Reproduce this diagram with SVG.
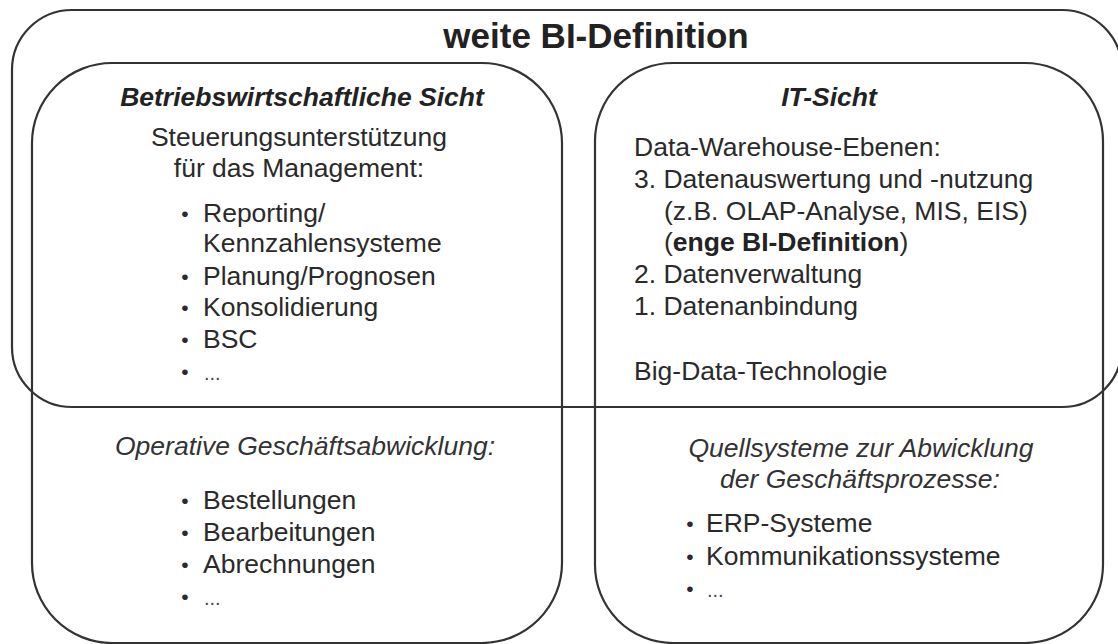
<svg xmlns="http://www.w3.org/2000/svg" width="1118" height="644" viewBox="0 0 1118 644">
  <style>
    .frame { fill: none; stroke: #333; stroke-width: 2.2; }
    text { font-family: "Liberation Sans", Arial, sans-serif; fill: #2a2a2a; font-size: 26.5px; }
    .title { font-size: 35px; font-weight: bold; text-anchor: middle; fill: #222; }
    .head { font-weight: bold; font-style: italic; text-anchor: middle; fill: #222; }
    .sub { font-style: italic; text-anchor: middle; fill: #333; }
    .mid { text-anchor: middle; }
    .dot { text-anchor: middle; font-size: 21px; }
    .more { font-size: 20px; fill: #444; }
  </style>
  <rect width="1118" height="644" fill="#fff"/>

  <!-- wide BI definition: outer frame spanning both views -->
  <g id="weite-bi">
    <rect class="frame" x="12" y="10" width="1110" height="397" rx="60" ry="60"/>
    <text class="title" x="596" y="48">weite BI-Definition</text>
  </g>

  <!-- business view -->
  <g id="bw-sicht">
    <rect class="frame" x="32" y="63" width="530" height="580" rx="80" ry="80"/>
    <text class="head" x="302" y="106">Betriebswirtschaftliche Sicht</text>
    <text class="mid" x="299" y="146">Steuerungsunterstützung</text>
    <text class="mid" x="299" y="177">für das Management:</text>
    <g>
      <text class="dot" x="185" y="221">•</text>
      <text x="203" y="222">Reporting/</text>
      <text x="203" y="252">Kennzahlensysteme</text>
      <text class="dot" x="185" y="284">•</text>
      <text x="203" y="285">Planung/Prognosen</text>
      <text class="dot" x="185" y="315">•</text>
      <text x="203" y="316">Konsolidierung</text>
      <text class="dot" x="185" y="347">•</text>
      <text x="203" y="348">BSC</text>
      <text class="dot" x="185" y="379">•</text>
      <text class="more" x="204" y="380">...</text>
    </g>
    <text class="sub" x="305" y="455">Operative Geschäftsabwicklung:</text>
    <g>
      <text class="dot" x="185" y="508">•</text>
      <text x="203" y="509">Bestellungen</text>
      <text class="dot" x="185" y="540">•</text>
      <text x="203" y="541">Bearbeitungen</text>
      <text class="dot" x="185" y="572">•</text>
      <text x="203" y="573">Abrechnungen</text>
      <text class="dot" x="185" y="604">•</text>
      <text class="more" x="204" y="605">...</text>
    </g>
  </g>

  <!-- IT view -->
  <g id="it-sicht">
    <rect class="frame" x="595" y="63" width="508" height="580" rx="78" ry="78"/>
    <text class="head" x="829" y="106">IT-Sicht</text>
    <text x="634" y="156">Data-Warehouse-Ebenen:</text>
    <text x="634" y="188">3. Datenauswertung und -nutzung</text>
    <text x="664" y="220">(z.B. OLAP-Analyse, MIS, EIS)</text>
    <text x="664" y="251">(<tspan font-weight="bold" fill="#222">enge BI-Definition</tspan>)</text>
    <text x="634" y="283">2. Datenverwaltung</text>
    <text x="634" y="315">1. Datenanbindung</text>
    <text x="634" y="380">Big-Data-Technologie</text>
    <text class="sub" x="861" y="457">Quellsysteme zur Abwicklung</text>
    <text class="sub" x="860" y="488">der Geschäftsprozesse:</text>
    <g>
      <text class="dot" x="690" y="531">•</text>
      <text x="706" y="532">ERP-Systeme</text>
      <text class="dot" x="690" y="564">•</text>
      <text x="706" y="565">Kommunikationssysteme</text>
      <text class="dot" x="690" y="596">•</text>
      <text class="more" x="707" y="597">...</text>
    </g>
  </g>

  <g id="connectors"/>
</svg>
